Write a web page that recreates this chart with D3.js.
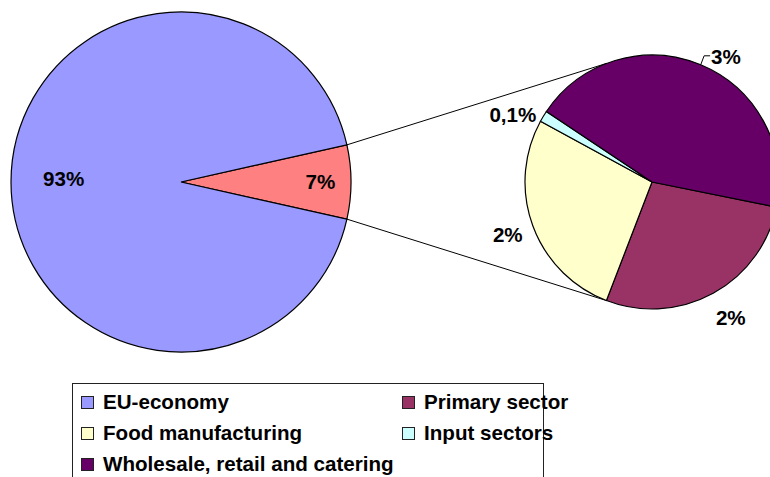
<!DOCTYPE html>
<html>
<head>
<meta charset="utf-8">
<script src="https://cdn.jsdelivr.net/npm/d3@7"></script>
<style>
  body { margin: 0; background: #fff; }
  text { font-family: "Liberation Sans", Arial, sans-serif; font-weight: bold; font-size: 20.6px; fill: #000; }
</style>
</head>
<body>
<svg id="chart" width="770" height="477"></svg>
<script>
// data (share of EU economy, %)
const categories = ["EU-economy", "Primary sector", "Food manufacturing", "Input sectors", "Wholesale, retail and catering"];
const shares = [93, 1.94, 1.90, 0.10, 3.07];
const colors = ["#9999FF", "#993366", "#FFFFCC", "#CCFFFF", "#660066"];
const otherColor = "#FF8080";

const svg = d3.select("#chart");
const deg = Math.PI / 180;
const fmt = v => (v < 1 ? v.toFixed(1).replace(".", ",") : Math.round(v)) + "%";

// first pie: EU economy vs the food chain
const chainTotal = d3.sum(shares.slice(1));
const mainData = [{name: "Food chain", value: chainTotal, color: otherColor},
                  {name: categories[0], value: shares[0], color: colors[0]}];
const leftC = [181, 182], leftR = 170;
const chainAngle = chainTotal / (chainTotal + shares[0]) * 2 * Math.PI;
const leftPie = d3.pie().sort(null).value(d => d.value)
  .startAngle(Math.PI / 2 - chainAngle / 2)
  .endAngle(Math.PI / 2 - chainAngle / 2 + 2 * Math.PI);
const leftArcs = leftPie(mainData);

// second pie: the food chain split
const subData = categories.slice(1).map((c, i) => ({name: c, value: shares[i + 1], color: colors[i + 1]}));
const rightC = [652, 182], rightR = 127;
const rightPie = d3.pie().sort(null).value(d => d.value)
  .startAngle(101.4 * deg).endAngle(101.4 * deg + 2 * Math.PI);
const rightArcs = rightPie(subData);

const pt = (c, r, a) => [c[0] + r * Math.sin(a), c[1] - r * Math.cos(a)];

// connector lines
const chainArc = leftArcs[0];
const bottomA = rightArcs[0].endAngle;
const topA = Math.PI - bottomA;
svg.append("g").selectAll("line")
  .data([[pt(leftC, leftR, chainArc.startAngle), pt(rightC, rightR, topA)],
         [pt(leftC, leftR, chainArc.endAngle), pt(rightC, rightR, bottomA)]])
  .join("line")
  .attr("x1", d => d[0][0]).attr("y1", d => d[0][1])
  .attr("x2", d => d[1][0]).attr("y2", d => d[1][1])
  .attr("stroke", "#000").attr("stroke-width", 1);

// left pie
const leftArc = d3.arc().innerRadius(0).outerRadius(leftR);
const gl = svg.append("g").attr("transform", `translate(${leftC})`);
gl.selectAll("path").data(leftArcs).join("path")
  .attr("d", leftArc).attr("fill", d => d.data.color)
  .attr("stroke", "#000").attr("stroke-width", 1.2);
const leftLabelR = [0.82, 0.69];
gl.selectAll("text").data(leftArcs).join("text")
  .attr("x", (d, i) => leftLabelR[i] * leftR * Math.sin((d.startAngle + d.endAngle) / 2))
  .attr("y", (d, i) => -leftLabelR[i] * leftR * Math.cos((d.startAngle + d.endAngle) / 2) - (i ? 3 : 0))
  .attr("dy", "0.36em").attr("text-anchor", "middle")
  .text(d => fmt(d.value / (chainTotal + shares[0]) * 100));

// right pie
const rightArc = d3.arc().innerRadius(0).outerRadius(rightR);
const gr = svg.append("g").attr("transform", `translate(${rightC})`);
gr.selectAll("path").data(rightArcs).join("path")
  .attr("d", rightArc).attr("fill", d => d.data.color)
  .attr("stroke", "#000").attr("stroke-width", 1.2);

// outside labels: anchor side and small nudges
const labelR = rightR + 14;
const nudge = [[-4, 12], [3, 4], [5, 6], [5, 5]];
const anchor = ["start", "end", "end", "start"];
const lab = rightArcs.map((d, i) => {
  const m = (d.startAngle + d.endAngle) / 2;
  return {x: labelR * Math.sin(m) + nudge[i][0], y: -labelR * Math.cos(m) + nudge[i][1], m, d, i};
});
gr.selectAll("text").data(lab).join("text")
  .attr("x", d => d.x).attr("y", d => d.y)
  .attr("dy", "0.36em").attr("text-anchor", (d, i) => anchor[i])
  .text(d => fmt(d.d.value));

// leader line for the wholesale label
const wl = lab[3];
const edge = [rightR * Math.sin(wl.m), -rightR * Math.cos(wl.m)];
gr.append("polyline")
  .attr("points", [edge, [wl.x - 7, wl.y - 1], [wl.x - 1, wl.y - 1]].map(p => p.join(",")).join(" "))
  .attr("fill", "none").attr("stroke", "#000").attr("stroke-width", 1);

// legend
const legend = svg.append("g");
legend.append("rect").attr("x", 72.5).attr("y", 383.5).attr("width", 471).attr("height", 120)
  .attr("fill", "#fff").attr("stroke", "#222").attr("stroke-width", 1);
const colX = [81, 402], rowY = [396, 427, 458];
const items = legend.selectAll("g.item").data(categories).join("g")
  .attr("class", "item")
  .attr("transform", (d, i) => `translate(${colX[i % 2]},${rowY[Math.floor(i / 2)]})`);
items.append("rect").attr("x", 0.5).attr("y", 0.5).attr("width", 12).attr("height", 12)
  .attr("fill", (d, i) => colors[i]).attr("stroke", "#222").attr("stroke-width", 1);
items.append("text").attr("x", 22).attr("y", 13).text(d => d);
</script>
</body>
</html>
